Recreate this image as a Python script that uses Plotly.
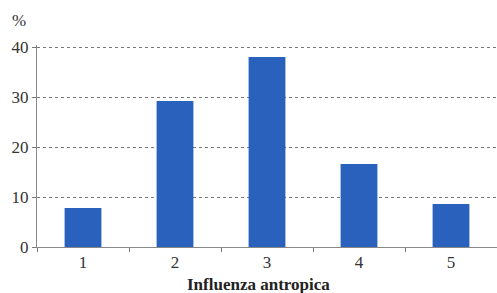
import plotly.graph_objects as go

categories = ["1", "2", "3", "4", "5"]
values = [7.8, 29.2, 38.0, 16.6, 8.6]
y_ticks = [0, 10, 20, 30, 40]

font_family = "Liberation Serif"
text_color = "#333"

fig = go.Figure()
fig.add_trace(go.Bar(
    x=categories, y=values,
    marker=dict(color="#2A61BD", line=dict(width=0)),
    width=0.4,
))

fig.update_layout(
    width=497, height=293,
    margin=dict(l=37, r=0, t=45, b=46, autoexpand=False),
    paper_bgcolor="white", plot_bgcolor="white",
    showlegend=False,
    font=dict(family=font_family, size=17, color=text_color),
)
fig.update_xaxes(
    type="category", tickson="boundaries", ticks="outside", ticklen=4,
    tickcolor="#777", showline=True, linecolor="#888", linewidth=1,
    showgrid=False, tickfont=dict(size=17, family=font_family, color=text_color),
    range=[-0.5, 4.5], automargin=False,
)
fig.update_yaxes(
    range=[0, 40.4], tickvals=y_ticks, ticks="outside", ticklen=4, tickcolor="#777",
    showline=True, linecolor="#888", linewidth=1,
    showgrid=True, gridcolor="#777", griddash="dot", gridwidth=1,
    zeroline=False, automargin=False,
    tickfont=dict(size=17, family=font_family, color=text_color),
)
fig.add_annotation(text="%", xref="paper", yref="paper", x=-0.04, y=1.0,
                   yshift=25, xanchor="center", yanchor="middle", showarrow=False,
                   font=dict(size=17, family=font_family, color=text_color))
fig.add_annotation(text="<b>Influenza antropica</b>", xref="paper", yref="paper",
                   x=0.482, y=0, yshift=-37, xanchor="center", yanchor="middle",
                   showarrow=False, font=dict(size=17, family=font_family, color="#222"))

fig.write_html("out.html", config={"displayModeBar": False},
               post_script="document.body.style.margin='0';document.body.style.overflow='hidden';")
